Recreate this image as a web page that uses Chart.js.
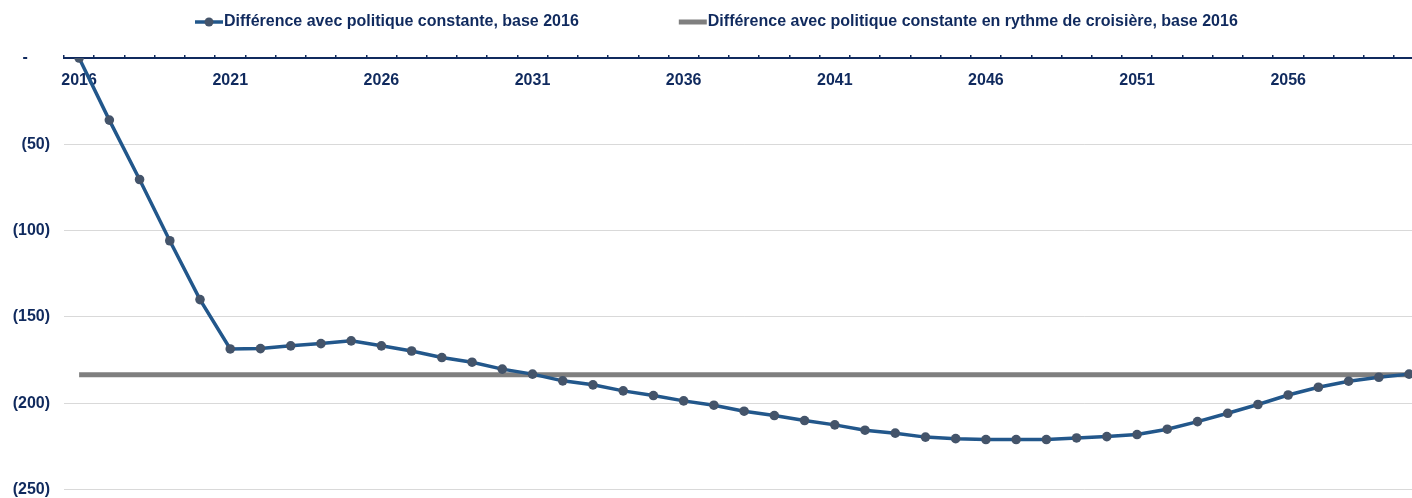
<!DOCTYPE html>
<html>
<head>
<meta charset="utf-8">
<script src="https://cdn.jsdelivr.net/npm/chart.js@4/dist/chart.umd.min.js"></script>
<style>
  html, body { margin: 0; padding: 0; background: #ffffff; overflow: hidden; }
  #wrap { position: relative; width: 1429px; height: 513px; }
</style>
</head>
<body>
<div id="wrap"><canvas id="c"></canvas></div>
<script>
// ---- Data ----
const years = [2016, 2017, 2018, 2019, 2020, 2021, 2022, 2023, 2024, 2025,
               2026, 2027, 2028, 2029, 2030, 2031, 2032, 2033, 2034, 2035,
               2036, 2037, 2038, 2039, 2040, 2041, 2042, 2043, 2044, 2045,
               2046, 2047, 2048, 2049, 2050, 2051, 2052, 2053, 2054, 2055,
               2056, 2057, 2058, 2059, 2060];
const xTickLabels = ['2016', '2021', '2026', '2031', '2036', '2041', '2046', '2051', '2056'];

const seriesConstantPolicy = [0, -36.0, -70.4, -105.9, -140.0, -168.6, -168.4, -166.8, -165.5, -163.9,
               -166.8, -169.8, -173.6, -176.3, -180.3, -183.2, -187.1, -189.4, -192.9, -195.6,
               -198.7, -201.2, -204.7, -207.2, -210.1, -212.6, -215.7, -217.4, -219.7, -220.6,
               -221.1, -221.1, -221.1, -220.2, -219.4, -218.2, -215.1, -210.7, -205.9, -200.8,
               -195.3, -190.8, -187.3, -185.0, -183.2];
const cruiseValue = -183.5;
const seriesCruise = [cruiseValue, cruiseValue, cruiseValue, cruiseValue, cruiseValue, cruiseValue, cruiseValue, cruiseValue, cruiseValue, cruiseValue,
               cruiseValue, cruiseValue, cruiseValue, cruiseValue, cruiseValue, cruiseValue, cruiseValue, cruiseValue, cruiseValue, cruiseValue,
               cruiseValue, cruiseValue, cruiseValue, cruiseValue, cruiseValue, cruiseValue, cruiseValue, cruiseValue, cruiseValue, cruiseValue,
               cruiseValue, cruiseValue, cruiseValue, cruiseValue, cruiseValue, cruiseValue, cruiseValue, cruiseValue, cruiseValue, cruiseValue,
               cruiseValue, cruiseValue, cruiseValue, cruiseValue, cruiseValue];

const seriesLabels = ['Différence avec politique constante, base 2016',
                      'Différence avec politique constante en rythme de croisière, base 2016'];

const yTickValues = [0, -50, -100, -150, -200, -250];
const yTickLabels = ['-     ', '(50)', '(100)', '(150)', '(200)', '(250)'];

// ---- Style ----
const NAVY = '#102a5e';
const LINE_BLUE = '#22578b';
const POINT_FILL = '#44546a';
const GRAY = '#7f7f7f';
const FONT_FAMILY = 'Arial, "Liberation Sans", sans-serif';

const legendPlugin = {
  id: 'customLegend',
  afterDraw(chart) {
    const ctx = chart.ctx;
    ctx.save();
    ctx.font = 'bold 16px ' + FONT_FAMILY;
    ctx.textBaseline = 'middle';
    ctx.textAlign = 'left';
    const markerW = 28, markerGap = 1, itemGap = 100;
    const w1 = ctx.measureText(seriesLabels[0]).width;
    let x = 195;
    const y = 22;
    // item 1
    ctx.strokeStyle = LINE_BLUE; ctx.lineWidth = 3.5; ctx.lineCap = 'butt';
    ctx.beginPath(); ctx.moveTo(x, y); ctx.lineTo(x + markerW, y); ctx.stroke();
    ctx.fillStyle = POINT_FILL;
    ctx.beginPath(); ctx.arc(x + markerW / 2, y, 4.5, 0, Math.PI * 2); ctx.fill();
    x += markerW + markerGap;
    ctx.fillStyle = NAVY; ctx.fillText(seriesLabels[0], x, y);
    x += w1 + itemGap;
    // item 2
    ctx.strokeStyle = GRAY; ctx.lineWidth = 5;
    ctx.beginPath(); ctx.moveTo(x, y); ctx.lineTo(x + markerW, y); ctx.stroke();
    x += markerW + markerGap;
    ctx.fillStyle = NAVY; ctx.fillText(seriesLabels[1], x, y);
    ctx.restore();
  }
};

new Chart(document.getElementById('c'), {
  type: 'line',
  data: {
    labels: years.map(String),
    datasets: [
      {
        label: seriesLabels[1],
        data: seriesCruise,
        borderColor: GRAY,
        borderWidth: 5,
        pointRadius: 0,
        pointHoverRadius: 0,
        tension: 0,
        order: 2
      },
      {
        label: seriesLabels[0],
        data: seriesConstantPolicy,
        borderColor: LINE_BLUE,
        borderWidth: 3.5,
        pointRadius: 4.8,
        pointBackgroundColor: POINT_FILL,
        pointBorderColor: POINT_FILL,
        pointBorderWidth: 0,
        tension: 0,
        order: 1
      }
    ]
  },
  options: {
    responsive: true,
    maintainAspectRatio: false,
    animation: false,
    layout: { padding: { top: 58, left: 0, right: 0, bottom: 0 } },
    plugins: {
      legend: { display: false },
      tooltip: { enabled: false }
    },
    scales: {
      x: {
        position: { y: 0 },
        offset: true,
        grid: {
          offset: true,
          drawOnChartArea: false,
          drawTicks: true,
          tickLength: -4,
          color: NAVY,
          lineWidth: 1.5
        },
        border: { display: true, color: NAVY, width: 2 },
        ticks: {
          autoSkip: false,
          maxRotation: 0,
          minRotation: 0,
          padding: 17,
          color: NAVY,
          font: { family: FONT_FAMILY, size: 16, weight: 'bold' },
          callback: function (value, index) {
            const lab = this.getLabelForValue(value);
            return xTickLabels.includes(lab) ? lab : '';
          }
        }
      },
      y: {
        min: -250,
        max: 0,
        afterFit: (scale) => { scale.width = 64; },
        afterBuildTicks: (scale) => { scale.ticks = yTickValues.slice().reverse().map(v => ({ value: v })); },
        grid: { color: '#d9d9d9', lineWidth: 1, drawTicks: false },
        border: { display: false },
        ticks: {
          padding: 14,
          color: NAVY,
          font: { family: FONT_FAMILY, size: 16, weight: 'bold' },
          callback: (v) => yTickLabels[yTickValues.indexOf(v)]
        }
      }
    }
  },
  plugins: [legendPlugin]
});
</script>
</body>
</html>
